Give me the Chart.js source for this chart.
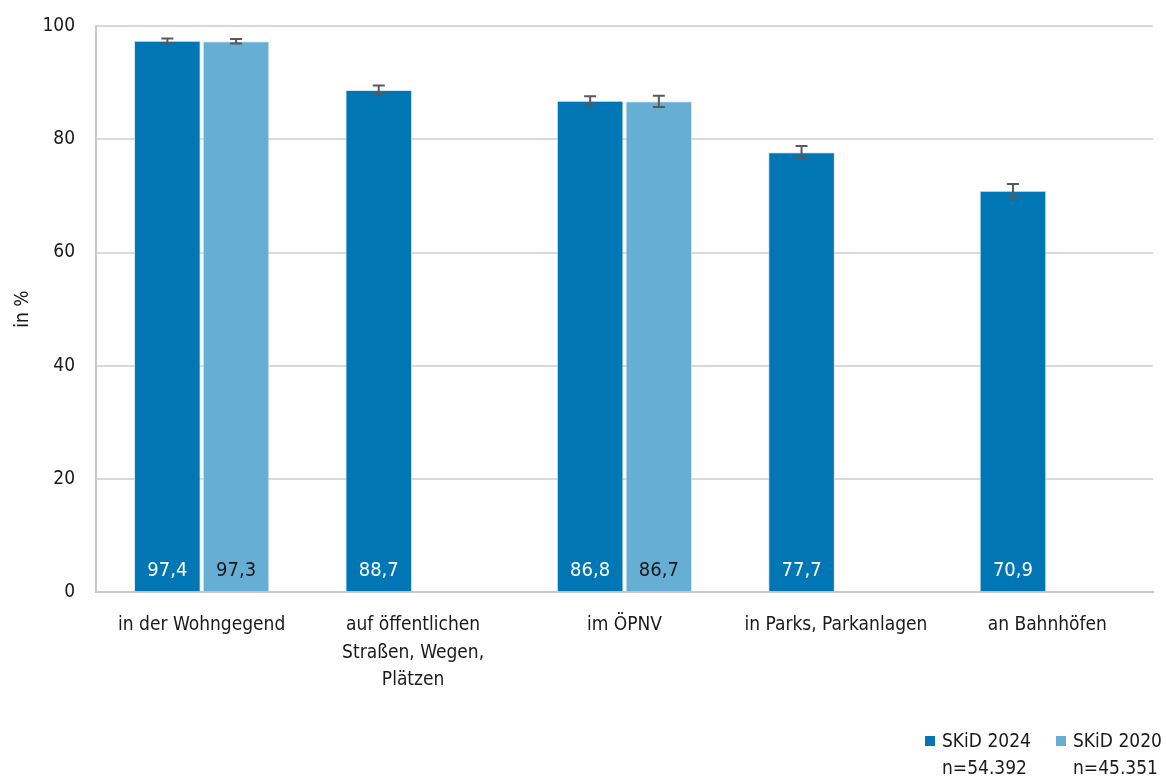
<!DOCTYPE html>
<html lang="de">

<head>
    <meta charset="UTF-8">
    <title>Sicherheitsgefühl</title>
    <script src="https://cdn.jsdelivr.net/npm/chart.js"></script>
    <style>
        body {
            margin: 0;
            background: #fff;
            font-family: "Liberation Sans Narrow", "DejaVu Sans Condensed", "Noto Sans", sans-serif;
        }

        #wrap {
            position: relative;
            width: 1166px;
            height: 776px;
        }

        .legend {
            position: absolute;
            top: 727px;
            font-size: 19px;
            color: #1a1a1a;
            line-height: 27px;
            white-space: nowrap;
        }

        .legend .box {
            position: absolute;
            left: -17px;
            top: 9px;
            width: 10px;
            height: 10px;
        }
    </style>
</head>

<body>
    <div id="wrap">
        <canvas id="mycanvas" width="1166" height="776"></canvas>
        <div class="legend" style="left: 942px;"><span class="box" style="background:#0076b5"></span>SKiD 2024<br>n=54.392</div>
        <div class="legend" style="left: 1073px;"><span class="box" style="background:#67aed5"></span>SKiD 2020<br>n=45.351</div>
    </div>

    <script type="text/javascript">
        const categories = [
            'in der Wohngegend',
            ['auf öffentlichen', 'Straßen, Wegen,', 'Plätzen'],
            'im ÖPNV',
            'in Parks, Parkanlagen',
            'an Bahnhöfen'
        ];
        const skid2024 = [97.4, 88.7, 86.8, 77.7, 70.9];
        const skid2020 = [97.3, null, 86.7, null, null];
        const err2024 = [0.4, 0.8, 0.8, 1.1, 1.2];
        const err2020 = [0.4, null, 1.0, null, null];
        const yTicks = [0, 20, 40, 60, 80, 100];

        const fontFamily = '"Liberation Sans Narrow", "DejaVu Sans Condensed", "Noto Sans", sans-serif';

        // error bars + value labels at the foot of each bar
        const barExtras = {
            id: 'barExtras',
            afterDatasetsDraw(chart) {
                const ctx = chart.ctx;
                const y = chart.scales.y;
                const errs = [err2024, err2020];
                const textColors = ['#ffffff', '#1a1a1a'];
                chart.data.datasets.forEach((ds, i) => {
                    const meta = chart.getDatasetMeta(i);
                    meta.data.forEach((bar, j) => {
                        const v = ds.data[j];
                        if (v === null) return;
                        const e = errs[i][j];
                        const top = y.getPixelForValue(v + e);
                        const bot = y.getPixelForValue(v - e);
                        ctx.save();
                        ctx.strokeStyle = '#595959';
                        ctx.lineWidth = 2;
                        ctx.beginPath();
                        ctx.moveTo(bar.x, top);
                        ctx.lineTo(bar.x, bot);
                        ctx.moveTo(bar.x - 6, top);
                        ctx.lineTo(bar.x + 6, top);
                        ctx.moveTo(bar.x - 6, bot);
                        ctx.lineTo(bar.x + 6, bot);
                        ctx.stroke();

                        ctx.fillStyle = textColors[i];
                        ctx.font = '20px ' + fontFamily;
                        ctx.textAlign = 'center';
                        ctx.textBaseline = 'middle';
                        ctx.fillText(v.toFixed(1).replace('.', ','), bar.x, y.getPixelForValue(0) - 22);
                        ctx.restore();
                    });
                });
            }
        };

        const ctx = document.getElementById('mycanvas').getContext('2d');

        new Chart(ctx, {
            type: 'bar',
            data: {
                labels: categories,
                datasets: [{
                    label: 'SKiD 2024',
                    data: skid2024,
                    backgroundColor: '#0076b5',
                    borderColor: 'rgba(200,225,240,0.8)',
                    borderWidth: 1,
                    categoryPercentage: 0.65,
                    barPercentage: 0.97
                }, {
                    label: 'SKiD 2020',
                    data: skid2020,
                    backgroundColor: '#67aed5',
                    borderColor: 'rgba(210,230,242,0.8)',
                    borderWidth: 1,
                    categoryPercentage: 0.65,
                    barPercentage: 0.97
                }]
            },
            options: {
                responsive: false,
                animation: false,
                layout: {
                    padding: { top: 26, right: 13, left: 0, bottom: 71 }
                },
                plugins: {
                    legend: { display: false },
                    tooltip: { enabled: false }
                },
                scales: {
                    x: {
                        grid: { display: false },
                        border: { color: '#c8c8c8', width: 2 },
                        ticks: {
                            color: '#1a1a1a',
                            font: { family: fontFamily, size: 19, lineHeight: 1.45 },
                            maxRotation: 0,
                            autoSkip: false,
                            padding: 11
                        }
                    },
                    y: {
                        min: 0,
                        max: 100,
                        afterBuildTicks(scale) {
                            scale.ticks = yTicks.map(v => ({ value: v }));
                        },
                        afterFit(scale) {
                            scale.width = 96;
                            scale.paddingTop = 0;
                            scale.paddingBottom = 0;
                        },
                        grid: { color: '#d9d9d9', lineWidth: 2, drawTicks: false },
                        border: { color: '#c8c8c8', width: 2 },
                        ticks: {
                            color: '#1a1a1a',
                            font: { family: fontFamily, size: 19 },
                            padding: 21
                        },
                        title: {
                            display: true,
                            text: 'in %',
                            color: '#1a1a1a',
                            font: { family: fontFamily, size: 19 },
                            padding: { top: 12, bottom: 0 }
                        }
                    }
                }
            },
            plugins: [barExtras]
        });
    </script>

</body>

</html>
